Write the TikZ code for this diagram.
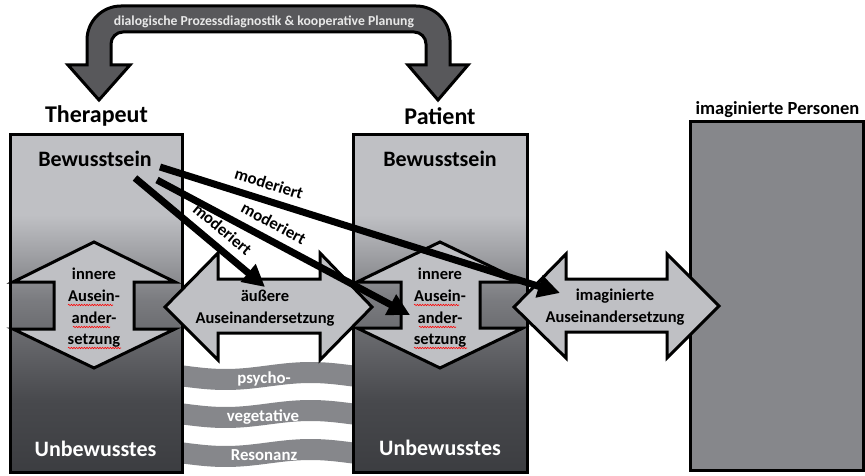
\documentclass[tikz,border=0pt]{standalone}
\usepackage{fontspec}
\setmainfont{Carlito}
\usetikzlibrary{arrows.meta,decorations.pathmorphing}
\definecolor{lt}{HTML}{BFC0C4}
\definecolor{md}{HTML}{7A7B7F}
\definecolor{dk}{HTML}{48494D}
\definecolor{dkk}{HTML}{3C3D41}
\definecolor{imgc}{HTML}{86878B}
\definecolor{wavec}{HTML}{86878B}
\definecolor{arcc}{HTML}{58585B}
\definecolor{arctxt}{HTML}{E8E8E8}
\newcommand\mygradbox[2]{%
  \fill[lt] (#1,135) rectangle (#2,215.5);
  \shade[top color=lt,bottom color=md] (#1,215) rectangle (#2,300.5);
  \shade[top color=md,bottom color=dk] (#1,300) rectangle (#2,400.5);
  \shade[top color=dk,bottom color=dkk] (#1,400) rectangle (#2,472);}
\tikzset{
  border/.style={draw=black, line width=3pt, line join=miter},
  bigarrow/.style={border, fill=lt},
  fs/.style={font=\fontsize{#1}{#1}\selectfont\bfseries},
  mod/.style={line width=7pt, -{Triangle[length=22pt,width=22pt]}},
  modlabel/.style={fs=16.8, sloped, above=7.5pt, inner sep=0pt},
  wave/.style={wavec, line width=21pt},
  wavetxt/.style={fs=16.8, text=white, anchor=base},
  squig/.style={red, line width=0.6pt, decorate, decoration={snake, segment length=2.6pt, amplitude=0.7pt}},
}
\begin{document}
\begin{tikzpicture}[x=1pt,y=-1pt]
\useasboundingbox (0,0) rectangle (865,476);
% waves
\foreach \c in {376,414,453}
  \draw[wave] plot[smooth, domain=180:356, samples=25] (\x, {\c + 3.5*sin((\x-183)*2.1176)});
\node[wavetxt] (w1) at (264,383) {psycho-};
\node[wavetxt] (w2) at (263,421) {vegetative};
\node[wavetxt] (w3) at (264,460) {Resonanz};
% boxes
\mygradbox{10}{182}
\draw[border] (10,135) rectangle (182,472);
\mygradbox{353}{527}
\draw[border] (353,135) rectangle (527,472);
\filldraw[border, fill=imgc] (690,122) rectangle (863,470);
% inner arrows
\path[bigarrow] (94,242) -- (175,282) -- (134,282) -- (134,329) -- (175,329) -- (94,368)
  -- (13,329) -- (54,329) -- (54,282) -- (13,282) -- cycle;
\path[bigarrow] (440,242) -- (523,282) -- (480,282) -- (480,328) -- (523,328) -- (440,368)
  -- (357,328) -- (401,328) -- (401,282) -- (357,282) -- cycle;
% horizontal arrows
\path[bigarrow] (165,307) -- (218,253) -- (218,279) -- (320,279) -- (320,253) -- (372,307)
  -- (320,360) -- (320,333) -- (218,333) -- (218,360) -- cycle;
\path[bigarrow] (514,307) -- (566,254) -- (566,279) -- (667,279) -- (667,254) -- (719,306)
  -- (667,358) -- (667,332) -- (566,332) -- (566,358) -- cycle;
% texts in arrows
\node[align=center, font=\fontsize{16.5}{21.6}\selectfont\bfseries] (inT) at (94,308)
  {innere\\Ausein-\\ander-\\setzung};
\node[align=center, font=\fontsize{16.5}{21.6}\selectfont\bfseries] (inP) at (440,308)
  {innere\\Ausein-\\ander-\\setzung};
\node[align=center, font=\fontsize{16.5}{21.6}\selectfont\bfseries] (aus) at (265,308)
  {äußere\\Auseinandersetzung};
\node[align=center, font=\fontsize{16.5}{21.6}\selectfont\bfseries] (img) at (615,307)
  {imaginierte\\Auseinandersetzung};
\foreach \dx in {0,346} {
  \draw[squig] (68+\dx,305) -- (113+\dx,305);
  \draw[squig] (73+\dx,327) -- (110+\dx,327);
  \draw[squig] (68+\dx,348) -- (121+\dx,348);
}
% box texts
\node[fs=22, anchor=base] (bewT) at (95,166.5) {Bewusstsein};
\node[fs=22, anchor=base] (bewP) at (440,166.5) {Bewusstsein};
\node[fs=22, anchor=base, text=white] (unbT) at (95.5,456) {Unbewusstes};
\node[fs=22, anchor=base, text=white] (unbP) at (440,455) {Unbewusstes};
% moderiert arrows
\coordinate (m1a) at (135,178); \coordinate (m1b) at (265,287);
\coordinate (m2a) at (157,180); \coordinate (m2b) at (410,315);
\coordinate (m3a) at (160,167); \coordinate (m3b) at (560,293);
\draw[mod] (m1a) -- node[modlabel, pos=0.59] (l1) {moderiert} (m1b);
\draw[mod] (m2a) -- node[modlabel, pos=0.43] (l2) {moderiert} (m2b);
\draw[mod] (m3a) -- node[modlabel, pos=0.26] (l3) {moderiert} (m3b);
% top arc arrow
\path[border, fill=arcc] (87,65) -- (87,40) .. controls (87,21.2) and (102.2,6) .. (121,6)
  -- (416,6) .. controls (434.8,6) and (450,21.2) .. (450,40) -- (450,65) -- (468,65)
  -- (438,100) -- (408,65) -- (426,65) -- (426,44) .. controls (426,37.4) and (420.6,32) .. (414,32)
  -- (123,32) .. controls (116.4,32) and (111,37.4) .. (111,44) -- (111,65) -- (130,65)
  -- (99,100) -- (68,65) -- cycle;
\node[fs=13.7, anchor=base, text=arctxt] (dial) at (264,26) {dialogische Prozessdiagnostik \& kooperative Planung};
% headings
\node[fs=24, anchor=base] (ther) at (96.5,122.7) {Therapeut};
\node[fs=24, anchor=base] (pat) at (440,124.3) {Patient};
\node[fs=18.5, anchor=base] (imgp) at (777.5,115) {imaginierte Personen};
\end{tikzpicture}
\end{document}
